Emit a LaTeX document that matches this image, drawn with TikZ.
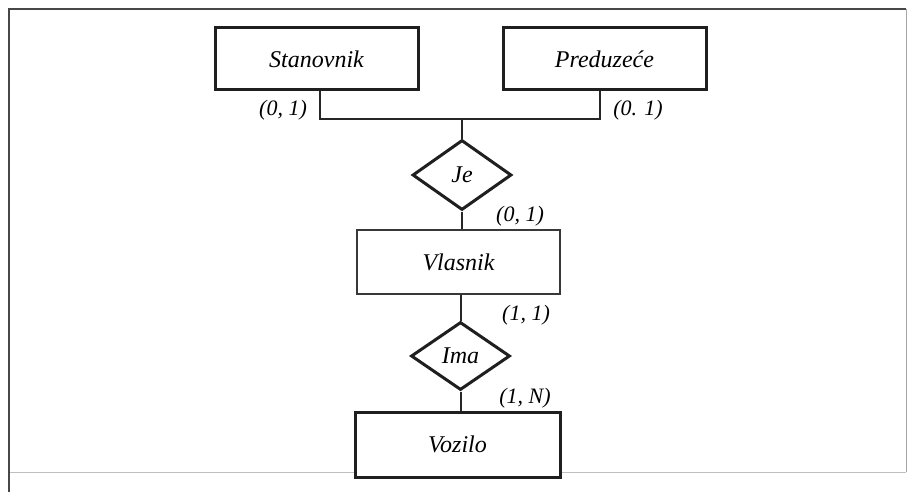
\documentclass[tikz,border=0pt]{standalone}
\usepackage{fontspec}
\setmainfont{Liberation Serif}
\usetikzlibrary{shapes.geometric}

\tikzset{
  entity/.style={draw=black!88, fill=white, line width=3pt, rectangle, minimum width=203pt,
    minimum height=62pt, inner sep=0pt,
    font=\fontsize{24}{28}\selectfont\itshape},
  relation/.style={draw=black!88, fill=white, line width=3pt, diamond, minimum width=99pt,
    minimum height=70pt, inner sep=0pt,
    font=\fontsize{24}{28}\selectfont\itshape},
  link/.style={draw=black!85, line width=2pt},
  card/.style={font=\fontsize{22}{26}\selectfont\itshape, inner sep=0pt},
  frame/.style={draw=black!72, line width=1.3pt}
}

\begin{document}
\begin{tikzpicture}[x=1pt, y=-1pt]
  \useasboundingbox (0,0) rectangle (909,492);

  % outer frame
  \draw[draw=black!25, line width=0.8pt] (9,472) -- (906,472);
  \draw[frame] (9,492) -- (9,9) -- (906,9);
  \draw[draw=black!35, line width=0.9pt] (906,9) -- (906,472);

  % entities and relationships
  \node[entity] (stan) at (316.5,59) {Stanovnik};
  \node[entity] (pred) at (604.5,59) {Preduzeće};
  \node[relation] (je) at (462,175) {Je};
  \node[entity, line width=2.3pt, draw=black!78, minimum height=64pt] (vlas) at (458.5,262) {Vlasnik};
  \node[relation, minimum height=68pt] (ima) at (460.5,356) {Ima};
  \node[entity, minimum width=205pt, minimum height=65pt] (voz) at (457.5,444.5) {Vozilo};

  % branching connector above Je
  \coordinate (jl) at (320,119);
  \coordinate (jr) at (600,119);
  \draw[link] (stan.south -| jl) -- (jl) -- (jr) -- (pred.south -| jr);
  \draw[link] (je.north) -- (je.north |- jl);

  % vertical links
  \draw[link] (je.south) -- (je.south |- vlas.north);
  \draw[link] (vlas.south -| ima.north) -- (ima.north);
  \draw[link] (ima.south) -- (ima.south |- voz.north);

  % cardinalities
  \node[card] (c1) at (283,110) {(0, 1)};
  \node[card] (c2) at (638,110) {(0. 1)};
  \node[card] (c3) at (520,216) {(0, 1)};
  \node[card] (c4) at (526,315) {(1, 1)};
  \node[card] (c5) at (525,398) {(1, \textit{N})};
\end{tikzpicture}
\end{document}
